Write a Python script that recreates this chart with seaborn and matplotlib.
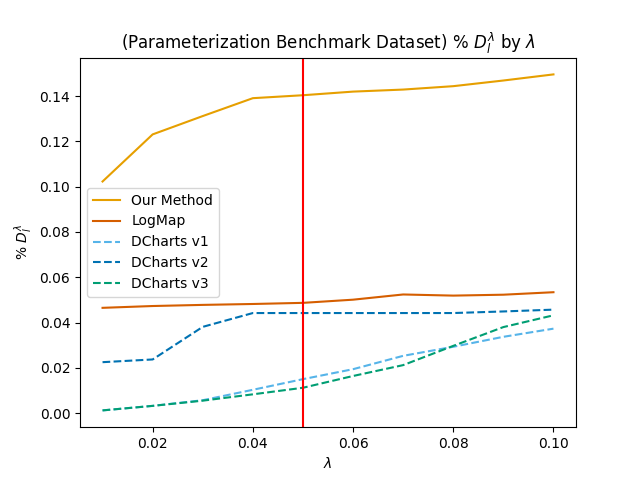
import pandas as pd
import matplotlib
matplotlib.use("Agg")
import matplotlib.pyplot as plt
import seaborn as sns

lambdas = [0.01, 0.02, 0.03, 0.04, 0.05, 0.06, 0.07, 0.08, 0.09, 0.10]
our_method = [0.1023, 0.1231, 0.1312, 0.1391, 0.1404, 0.1420, 0.1429, 0.1444, 0.1469, 0.1496]
logmap = [0.0465, 0.0473, 0.0478, 0.0482, 0.0487, 0.0501, 0.0524, 0.0519, 0.0523, 0.0534]
dcharts_v1 = [0.0012, 0.0032, 0.0057, 0.0103, 0.0150, 0.0194, 0.0253, 0.0293, 0.0337, 0.0373]
dcharts_v2 = [0.0225, 0.0237, 0.0381, 0.0442, 0.0442, 0.0442, 0.0442, 0.0442, 0.0449, 0.0457]
dcharts_v3 = [0.0012, 0.0032, 0.0055, 0.0083, 0.0112, 0.0164, 0.0212, 0.0297, 0.0380, 0.0432]

series = {
    "Our Method": our_method,
    "LogMap": logmap,
    "DCharts v1": dcharts_v1,
    "DCharts v2": dcharts_v2,
    "DCharts v3": dcharts_v3,
}
rows = []
for name, vals in series.items():
    for lam, v in zip(lambdas, vals):
        rows.append({"lambda": lam, "value": v, "method": name})
df = pd.DataFrame(rows)

# okabe-ito kleuren
colors = {"Our Method": "#E69F00", "LogMap": "#D55E00", "DCharts v1": "#56B4E9",
          "DCharts v2": "#0072B2", "DCharts v3": "#009E73"}
dashes = {"Our Method": "", "LogMap": "", "DCharts v1": (3.7, 1.6),
          "DCharts v2": (3.7, 1.6), "DCharts v3": (3.7, 1.6)}

fig, ax = plt.subplots(figsize=(6.4, 4.8), dpi=100)
sns.lineplot(data=df, x="lambda", y="value", hue="method", style="method",
             palette=colors, dashes=dashes, ax=ax, linewidth=1.5)
ax.axvline(0.05, color="red")
ax.set_title(r"(Parameterization Benchmark Dataset) % $D_l^\lambda$ by $\lambda$")
ax.set_xlabel(r"$\lambda$")
ax.set_ylabel(r"% $D_l^\lambda$")
ax.legend(loc="center left")
fig.savefig("out.png")
